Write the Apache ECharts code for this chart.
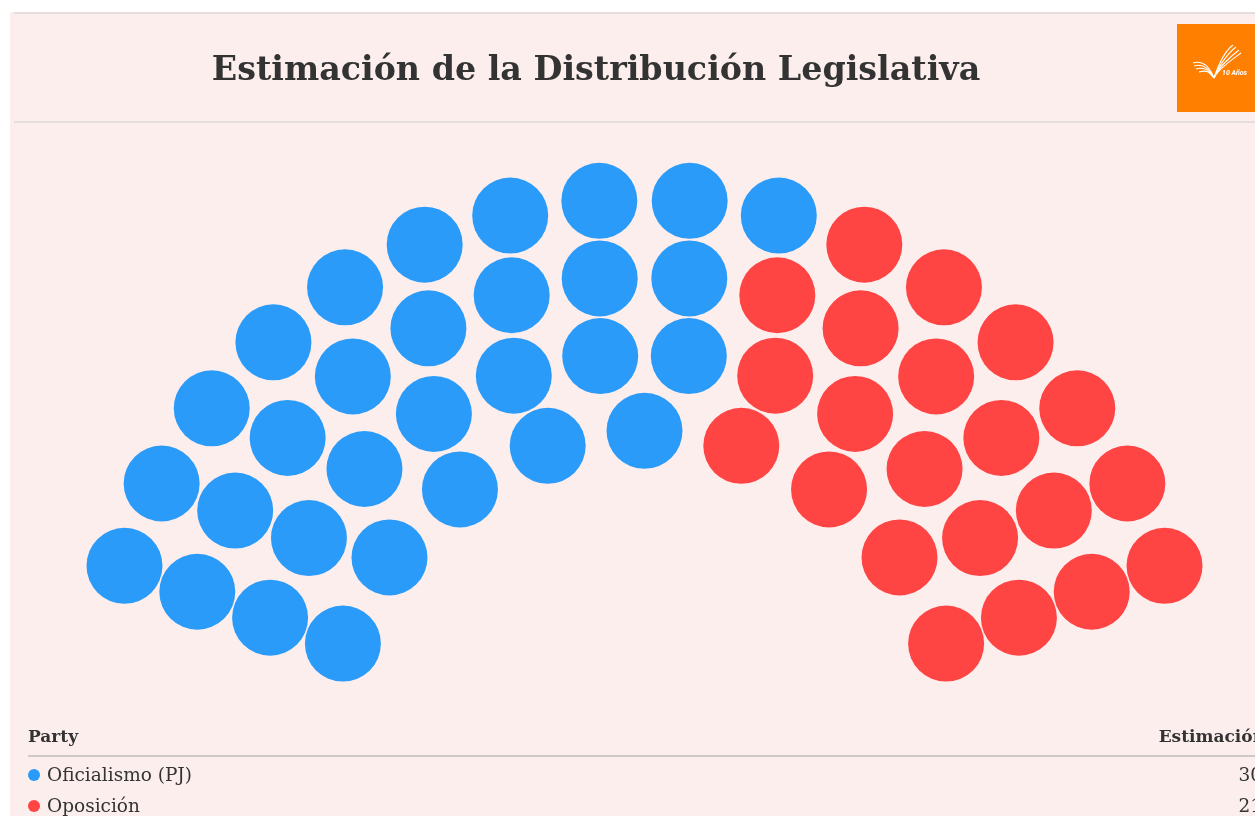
<!DOCTYPE html>
<html>
<head>
<meta charset="utf-8">
<script src="https://cdn.jsdelivr.net/npm/echarts@6/dist/echarts.min.js"></script>
<style>
html,body{margin:0;padding:0;background:#ffffff;width:1255px;height:816px;overflow:hidden;}
#panel{position:absolute;left:10px;top:12px;width:1400px;height:900px;background:#fdeeee;}
#topline{position:absolute;left:14px;top:12px;width:1400px;height:2px;background:#e6dede;}
#titleline{position:absolute;left:14px;top:121px;width:1400px;height:2px;background:#e6dede;}
#chart{position:absolute;left:0;top:0;width:1255px;height:816px;}
.tx{position:absolute;font-family:"DejaVu Serif",serif;color:#333;white-space:nowrap;line-height:20px;}
.hd{font-weight:bold;font-size:17px;}
.rw{font-size:18.5px;}
#hline{position:absolute;left:28px;top:755px;width:1240px;height:2px;background:#cfc8c8;}
.dot{display:inline-block;width:12px;height:12px;border-radius:6px;margin-right:7px;vertical-align:0px;}
</style>
</head>
<body>
<div id="panel"></div>
<div id="topline"></div>
<div id="titleline"></div>
<div id="chart"></div>
<div id="table"></div>
<div id="hline"></div>
<script>
// ---- data ----
const parties = ['Oficialismo (PJ)', 'Oposición'];
const seats = [30, 21];
const partyColors = ['#2a9bf8', '#ff4444'];
const titleText = 'Estimación de la Distribución Legislativa';
const headerLabels = ['Party', 'Estimación'];

// ---- parliament layout (computed from seat counts) ----
const rowCount = 4;
const innerFrac = 0.58;
const startAngle = 160.4, endAngle = 19.6;
const total = seats.reduce((a, b) => a + b, 0);
const radii = [];
for (let i = 0; i < rowCount; i++) radii.push(innerFrac + i * (1 - innerFrac) / (rowCount - 1));
const sumR = radii.reduce((a, b) => a + b, 0);
const perRow = radii.map(r => Math.round(total * r / sumR));
perRow[rowCount - 1] += total - perRow.reduce((a, b) => a + b, 0);
const allSeats = [];
radii.forEach((r, i) => {
  const n = perRow[i];
  for (let j = 0; j < n; j++) {
    const a = n === 1 ? 90 : startAngle - j * (startAngle - endAngle) / (n - 1);
    allSeats.push({ r: r, a: a });
  }
});
allSeats.sort((p, q) => (q.a - p.a) || (p.r - q.r));
const seriesData = parties.map(() => []);
let idx = 0;
seats.forEach((count, p) => {
  for (let k = 0; k < count; k++, idx++) seriesData[p].push([allSeats[idx].r, allSeats[idx].a]);
});

// logo swoosh strokes
const swoosh = [];
const lefts = [[1193, 63], [1194, 66], [1196, 69], [1199, 72]];
const rights = [[1233, 45], [1236, 47], [1239, 50], [1241, 53]];
for (let i = 0; i < 4; i++) {
  swoosh.push({ type: 'bezierCurve', shape: { x1: lefts[i][0], y1: lefts[i][1], x2: 1214, y2: 78, cpx1: lefts[i][0] + 10, cpy1: lefts[i][1] - 3, cpx2: 1210, cpy2: 68 + i * 2 }, style: { stroke: '#ffffff', lineWidth: 1.1, fill: null } });
  swoosh.push({ type: 'bezierCurve', shape: { x1: 1214, y1: 78, x2: rights[i][0], y2: rights[i][1], cpx1: 1218, cpy1: 66 + i, cpx2: rights[i][0] - 8, cpy2: rights[i][1] + 6 }, style: { stroke: '#ffffff', lineWidth: 1.1, fill: null } });
}

const chart = echarts.init(document.getElementById('chart'), null, { renderer: 'canvas' });
chart.setOption({
  backgroundColor: 'transparent',
  animation: false,
  title: {
    text: titleText,
    left: 591, top: 50, textAlign: 'center',
    textStyle: { fontFamily: 'DejaVu Serif', fontWeight: 'bold', fontSize: 33.3, color: '#333333' }
  },
  polar: { center: [644.5, 751], radius: 552 },
  angleAxis: { type: 'value', min: 0, max: 360, startAngle: 0, clockwise: false, show: false },
  radiusAxis: { type: 'value', min: 0, max: 1, show: false },
  series: parties.map((name, p) => ({
    type: 'scatter', name: name, coordinateSystem: 'polar',
    symbol: 'circle', symbolSize: 76,
    itemStyle: { color: partyColors[p], opacity: 1 },
    emphasis: { disabled: true },
    data: seriesData[p]
  })),
  graphic: [
    { type: 'rect', shape: { x: 1177, y: 24, width: 90, height: 88 }, style: { fill: '#ff7f00' } },
    { type: 'group', children: swoosh },
    { type: 'text', x: 1222, y: 70, style: { text: '10 Años', fill: '#ffffff', font: 'italic bold 7px Roboto' } }
  ]
});

// ---- table (legend) ----
const tbl = document.getElementById('table');
function addText(cls, html, left, top, right) {
  const d = document.createElement('div');
  d.className = 'tx ' + cls;
  d.innerHTML = html;
  d.style.top = top + 'px';
  if (right !== undefined) { d.style.right = right + 'px'; } else { d.style.left = left + 'px'; }
  tbl.appendChild(d);
}
addText('hd', headerLabels[0], 28, 726);
addText('hd', headerLabels[1], 0, 726, -10);
parties.forEach((name, p) => {
  const y = 765 + p * 31;
  addText('rw', '<span class="dot" style="background:' + partyColors[p] + '"></span>' + name, 28, y);
  addText('rw', String(seats[p]), 0, y, -7);
});
</script>
</body>
</html>
